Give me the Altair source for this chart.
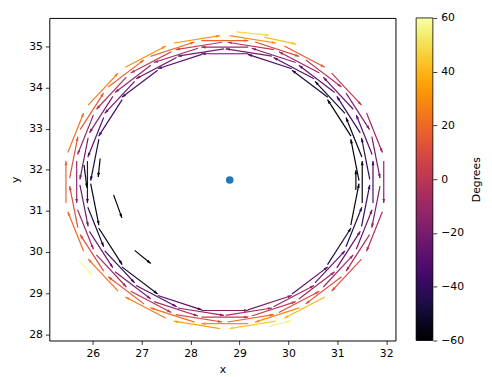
import altair as alt
import numpy as np
import pandas as pd

# ---- arrow data (midpoint x, y ; vector u, v ; colour value in degrees) ----
ring1_x = [31.95, 31.76, 31.19, 30.33, 29.27, 28.13, 27.08, 26.21, 25.65, 25.45, 25.65, 26.21, 27.08, 28.13, 29.27, 30.33, 31.19, 31.76]
ring1_y = [31.70, 32.90, 33.96, 34.75, 35.17, 35.17, 34.75, 33.96, 32.90, 31.70, 30.50, 29.44, 28.65, 28.23, 28.23, 28.65, 29.44, 30.50]
ring1_u = [0.0, 0.27, 0.51, 0.69, 0.79, 0.79, 0.69, 0.51, 0.27, 0.0, -0.27, -0.51, -0.69, -0.79, -0.79, -0.69, -0.51, -0.27]
ring1_v = [-0.85, -0.80, -0.65, -0.43, -0.15, 0.15, 0.43, 0.65, 0.80, 0.85, 0.80, 0.65, 0.43, 0.15, -0.15, -0.43, -0.65, -0.80]
ring1_deg = [-15, -10, 0, 15, 30, 32, 30, 25, 22, 18, 20, 22, 25, 35, 45, 40, 10, -5]

ring2_x = [31.79, 31.42, 30.72, 29.77, 28.70, 27.63, 26.68, 25.98, 25.61, 25.61, 25.98, 26.68, 27.63, 28.70, 29.77, 30.72, 31.42, 31.79]
ring2_y = [32.30, 33.42, 34.34, 34.93, 35.14, 34.93, 34.34, 33.42, 32.30, 31.10, 29.98, 29.07, 28.47, 28.26, 28.47, 29.07, 29.98, 31.10]
ring2_u = [0.14, 0.40, 0.61, 0.75, 0.80, 0.75, 0.61, 0.40, 0.14, -0.14, -0.40, -0.61, -0.75, -0.80, -0.75, -0.61, -0.40, -0.14]
ring2_v = [-0.84, -0.74, -0.55, -0.29, 0.0, 0.29, 0.55, 0.74, 0.84, 0.84, 0.74, 0.55, 0.29, 0.0, -0.29, -0.55, -0.74, -0.84]
ring2_deg = [-22, -18, -5, 10, 18, 21, 18, 15, 12, 10, 11, 13, 22, 32, 30, 12, -6, -18]

ring3_x = [31.73, 31.55, 31.02, 30.22, 29.23, 28.17, 27.19, 26.38, 25.85, 25.67, 25.85, 26.38, 27.19, 28.17, 29.23, 30.22, 31.02, 31.55]
ring3_y = [31.70, 32.85, 33.86, 34.61, 35.01, 35.01, 34.61, 33.86, 32.85, 31.70, 30.55, 29.54, 28.79, 28.39, 28.39, 28.79, 29.54, 30.55]
ring3_u = [0.0, -0.27, -0.51, -0.69, -0.79, -0.79, -0.69, -0.51, -0.27, 0.0, 0.27, 0.51, 0.69, 0.79, 0.79, 0.69, 0.51, 0.27]
ring3_v = [0.85, 0.80, 0.65, 0.43, 0.15, -0.15, -0.43, -0.65, -0.80, -0.85, -0.80, -0.65, -0.43, -0.15, 0.15, 0.43, 0.65, 0.80]
ring3_deg = [-35, -30, -25, -10, 0, 5, 0, -5, -10, -12, -10, -8, 0, 10, 20, 10, -10, -25]

ring4_x = [31.58, 31.23, 30.58, 29.70, 28.70, 27.70, 26.82, 26.17, 25.82, 25.82, 26.17, 26.82, 27.70, 28.70, 29.70, 30.58, 31.23, 31.58]
ring4_y = [32.27, 33.34, 34.21, 34.78, 34.98, 34.78, 34.21, 33.34, 32.27, 31.13, 30.06, 29.19, 28.62, 28.42, 28.62, 29.19, 30.06, 31.13]
ring4_u = [-0.14, -0.40, -0.61, -0.75, -0.80, -0.75, -0.61, -0.40, -0.14, 0.14, 0.40, 0.61, 0.75, 0.80, 0.75, 0.61, 0.40, 0.14]
ring4_v = [0.84, 0.74, 0.55, 0.29, 0.0, -0.29, -0.55, -0.74, -0.84, -0.84, -0.74, -0.55, -0.29, 0.0, 0.29, 0.55, 0.74, 0.84]
ring4_deg = [-42, -38, -28, -15, -10, -10, -12, -18, -21, -24, -22, -18, -8, 2, 2, -10, -28, -40]

ring5_x = [31.51, 31.34, 30.85, 30.11, 29.19, 28.21, 27.30, 26.55, 26.06, 25.89, 26.06, 26.55, 27.30, 28.21, 29.19, 30.11, 30.85, 31.34]
ring5_y = [31.70, 32.79, 33.76, 34.47, 34.85, 34.85, 34.47, 33.76, 32.79, 31.70, 30.61, 29.64, 28.93, 28.55, 28.55, 28.93, 29.64, 30.61]
ring5_u = [0.0, -0.27, -0.51, -0.69, -0.79, -0.79, -0.69, -0.51, -0.27, 0.0, 0.27, 0.51, 0.69, 0.79, 0.79, 0.69, 0.51, 0.27]
ring5_v = [0.85, 0.80, 0.65, 0.43, 0.15, -0.15, -0.43, -0.65, -0.80, -0.85, -0.80, -0.65, -0.43, -0.15, 0.15, 0.43, 0.65, 0.80]
ring5_deg = [-55, -55, -50, -30, -20, -20, -25, -25, -30, -40, -45, -40, -30, -10, -5, -10, -30, -45]

ring6_x = [31.36, 31.04, 30.44, 29.62, 28.70, 27.78, 26.96, 26.36, 26.04, 26.04, 26.36, 26.96, 27.78, 28.70, 29.62, 30.44, 31.04, 31.36]
ring6_y = [32.24, 33.26, 34.09, 34.63, 34.82, 34.63, 34.09, 33.26, 32.24, 31.16, 30.14, 29.31, 28.77, 28.58, 28.77, 29.31, 30.14, 31.16]
ring6_u = [-0.14, -0.40, -0.61, -0.75, -0.80, -0.75, -0.61, -0.40, -0.14, 0.14, 0.40, 0.61, 0.75, 0.80, 0.75, 0.61, 0.40, 0.14]
ring6_v = [0.84, 0.74, 0.55, 0.29, 0.0, -0.29, -0.55, -0.74, -0.84, -0.84, -0.74, -0.55, -0.29, 0.0, 0.29, 0.55, 0.74, 0.84]
ring6_deg = [-60, -58, -48, -34, -28, -29, -32, -38, -48, -56, -58, -52, -32, -18, -18, -30, -48, -58]

extra_x = [26.13, 26.51, 25.85, 27.02, 31.38, 25.85, 29.27, 29.83, 29.83]
extra_y = [32.05, 31.11, 31.84, 29.88, 31.75, 29.62, 35.31, 35.14, 28.26]
extra_u = [-0.04, 0.17, 0.06, 0.33, 0.0, 0.27, 0.67, 0.65, 0.45]
extra_v = [-0.45, -0.56, -0.55, -0.32, 0.48, -0.36, -0.08, -0.17, 0.14]
extra_deg = [-60, -60, -58, -58, -60, 58, 48, 42, 55]

center_x = [28.8]
center_y = [31.75]

X_DOMAIN = [25.11, 32.19]
Y_DOMAIN = [27.85, 35.69]
X_TICKS = [26, 27, 28, 29, 30, 31, 32]
Y_TICKS = [28, 29, 30, 31, 32, 33, 34, 35]
CBAR_DOMAIN = [-60, 60]
CBAR_TICKS = [-60, -40, -20, 0, 20, 40, 60]

W, H = 352, 328
CB_X0, CB_X1 = W + 21, W + 38
RING_SCALE = 1.2    # quiver length scale for the ring arrows
EXTRA_SCALE = 1.0

groups = [
    (ring1_x, ring1_y, ring1_u, ring1_v, ring1_deg, RING_SCALE),
    (ring2_x, ring2_y, ring2_u, ring2_v, ring2_deg, RING_SCALE),
    (ring3_x, ring3_y, ring3_u, ring3_v, ring3_deg, RING_SCALE),
    (ring4_x, ring4_y, ring4_u, ring4_v, ring4_deg, RING_SCALE),
    (ring5_x, ring5_y, ring5_u, ring5_v, ring5_deg, RING_SCALE),
    (ring6_x, ring6_y, ring6_u, ring6_v, ring6_deg, RING_SCALE),
    (extra_x, extra_y, extra_u, extra_v, extra_deg, EXTRA_SCALE),
]
frames = []
for a, b, c, d, e, s in groups:
    f = pd.DataFrame({"x": a, "y": b, "u": c, "v": d, "deg": e})
    f["u"] = f["u"] * s
    f["v"] = f["v"] * s
    frames.append(f)
df = pd.concat(frames, ignore_index=True)
df["x0"] = df["x"] - df["u"] / 2
df["y0"] = df["y"] - df["v"] / 2
df["x1"] = df["x"] + df["u"] / 2
df["y1"] = df["y"] + df["v"] / 2
px = W / (X_DOMAIN[1] - X_DOMAIN[0])
py = H / (Y_DOMAIN[1] - Y_DOMAIN[0])
df["ang"] = np.degrees(np.arctan2(df["u"] * px, df["v"] * py)) % 360

# colour-bar strips (one per degree, overlapping slightly to avoid seams)
cb_lo = np.arange(CBAR_DOMAIN[0], CBAR_DOMAIN[1], 1.0)
cb = pd.DataFrame({"lo": cb_lo, "hi": np.minimum(cb_lo + 1.8, CBAR_DOMAIN[1]), "mid": cb_lo + 0.5})

xs = alt.Scale(domain=X_DOMAIN, nice=False, zero=False)
ys = alt.Scale(domain=Y_DOMAIN, nice=False, zero=False)
cs = alt.Scale(scheme="inferno", domain=CBAR_DOMAIN)
cbs = alt.Scale(domain=CBAR_DOMAIN, nice=False, zero=False)

x_axis = alt.Axis(values=X_TICKS, title="x")
y_axis = alt.Axis(values=Y_TICKS, title="y")
cb_axis = alt.Axis(orient="right", offset=38, values=CBAR_TICKS, title="Degrees",
                   titleAngle=270, titlePadding=18, labelPadding=4, domain=False)

shafts = alt.Chart(df).mark_rule(strokeWidth=1.2, strokeCap="butt").encode(
    x=alt.X("x0:Q", scale=xs, axis=x_axis),
    y=alt.Y("y0:Q", scale=ys, axis=y_axis),
    x2="x1:Q",
    y2="y1:Q",
    color=alt.Color("deg:Q", scale=cs, legend=None),
)

heads = alt.Chart(df).mark_point(
    shape="M0,0L0.55,1.6L-0.55,1.6Z", filled=True, size=28, opacity=1, strokeWidth=0
).encode(
    x=alt.X("x1:Q", scale=xs, axis=x_axis),
    y=alt.Y("y1:Q", scale=ys, axis=y_axis),
    angle=alt.Angle("ang:Q", scale=None),
    color=alt.Color("deg:Q", scale=cs, legend=None),
)

center = alt.Chart(pd.DataFrame({"x": center_x, "y": center_y})).mark_circle(
    size=60, color="#1f77b4", opacity=1
).encode(x=alt.X("x:Q", scale=xs, axis=x_axis), y=alt.Y("y:Q", scale=ys, axis=y_axis))

main = alt.layer(shafts, heads, center)

cbar = alt.Chart(cb).mark_rect(strokeWidth=0).encode(
    x=alt.value(CB_X0),
    x2=alt.value(CB_X1),
    y=alt.Y("lo:Q", scale=cbs, axis=cb_axis),
    y2="hi:Q",
    color=alt.Color("mid:Q", scale=cs, legend=None),
)

cbar_frame = alt.Chart(pd.DataFrame({"lo": [CBAR_DOMAIN[0]], "hi": [CBAR_DOMAIN[1]]})).mark_rect(
    fill=None, stroke="black", strokeWidth=0.8
).encode(
    x=alt.value(CB_X0),
    x2=alt.value(CB_X1),
    y=alt.Y("lo:Q", scale=cbs, axis=cb_axis),
    y2="hi:Q",
)

chart = (
    alt.layer(main, alt.layer(cbar, cbar_frame))
    .resolve_scale(y="independent")
    .properties(
        width=W, height=H,
        autosize=alt.AutoSizeParams(type="none"),
        padding={"left": 42, "top": 7, "right": 90, "bottom": 34},
    )
    .configure_view(stroke="black", strokeWidth=1)
    .configure_axis(
        grid=False, domain=False, tickColor="black", tickSize=4, tickWidth=0.8,
        labelFontSize=11, labelFont="DejaVu Sans", labelColor="black", labelPadding=3,
        titleFontSize=11, titleFont="DejaVu Sans", titleFontWeight="normal", titleColor="black",
    )
    .configure_axisLeft(titlePadding=8, labelFlush=False)
    .configure_axisRight(labelFlush=False)
    .configure_axisX(titlePadding=6, labelFlush=False)
)

chart.save("out.html", embed_options={"renderer": "svg", "actions": False})
